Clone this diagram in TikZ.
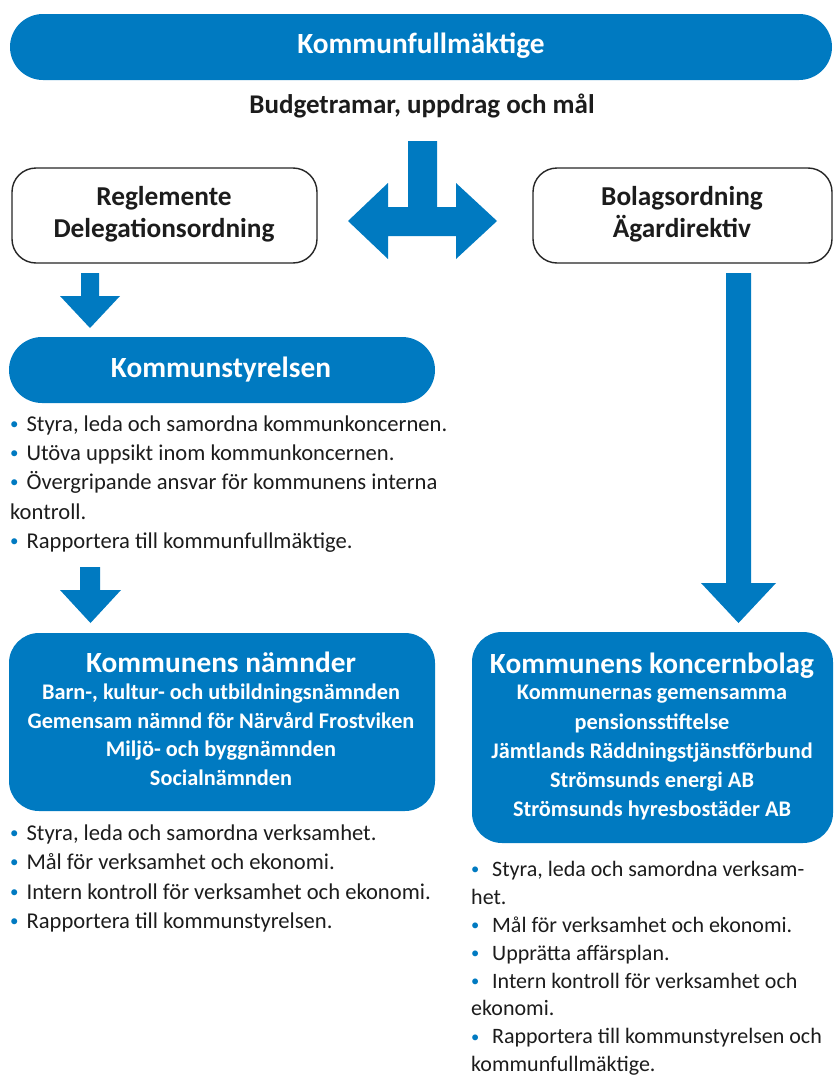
\documentclass[tikz,border=0pt]{standalone}
\usepackage{fontspec}
\setmainfont{Carlito}
\definecolor{kblue}{RGB}{0,122,193}
\definecolor{ktext}{RGB}{28,28,28}
\newcommand\kdot{\rlap{\textcolor{kblue}{\raisebox{0.08em}{\scalebox{0.75}{\textbullet}}}}\phantom{\textbullet}}
\newcommand\kbul{\kdot\ }
\newcommand\kbulw{\kdot\hspace{10pt}}
\begin{document}
\begin{tikzpicture}[x=1pt,y=-1pt,
  pill/.style={fill=kblue, draw=none, inner sep=0pt},
  whitebox/.style={draw=black!85, line width=1.4pt, fill=white, rounded corners=24pt, inner sep=0pt},
  blockarrow/.style={fill=kblue, draw=none},
  headtxt/.style={font=\bfseries\fontsize{29.3}{34}\selectfont, text=white, inner sep=0pt, anchor=base},
  subtxt/.style={font=\bfseries\fontsize{22.3}{29}\selectfont, text=white, align=center, inner sep=0pt, anchor=base},
  boxtxt/.style={font=\bfseries\fontsize{27.3}{32}\selectfont, text=ktext, align=center, inner sep=0pt, anchor=base},
  bodytxt/.style={font=\fontsize{22.6}{29.3}\selectfont, text=ktext, align=left, inner sep=0pt, anchor=base west},
]
\useasboundingbox (0,0) rectangle (833,1084);

% boxes
\node[pill, minimum width=822pt, minimum height=66pt, rounded corners=33pt] (kf) at (421,47) {};
\node[headtxt] (kft) at (421,53) {Kommunfullmäktige};
\node[boxtxt, font=\bfseries\fontsize{27}{32}\selectfont] (bud) at (422,113) {Budgetramar, uppdrag och mål};

\node[whitebox, minimum width=305pt, minimum height=95pt] (reg) at (164.5,215.5) {};
\node[boxtxt] (regt) at (164,237) {Reglemente\\Delegationsordning};
\node[whitebox, minimum width=299pt, minimum height=95pt] (bol) at (682.5,215.5) {};
\node[boxtxt] (bolt) at (682,237) {Bolagsordning\\Ägardirektiv};

\node[pill, minimum width=426pt, minimum height=66pt, rounded corners=33pt] (ks) at (222,370) {};
\node[headtxt] (kst) at (221,377.5) {Kommunstyrelsen};

\node[pill, minimum width=426pt, minimum height=178pt, rounded corners=30pt] (nam) at (222,722) {};
\node[headtxt] (namt) at (221,672.5) {Kommunens nämnder};
\node[subtxt, font=\bfseries\fontsize{22.3}{28.8}\selectfont] (nams) at (221,785.7) {Barn-, kultur- och utbildningsnämnden\\Gemensam nämnd för Närvård Frostviken\\Miljö- och byggnämnden\\Socialnämnden};

\node[pill, minimum width=361pt, minimum height=211pt, rounded corners=30pt] (bolag) at (652.5,737.5) {};
\node[headtxt] (bolagt) at (652,673) {Kommunens koncernbolag};
\node[subtxt, font=\bfseries\fontsize{22.3}{29.2}\selectfont] (bolags) at (652,816.7) {Kommunernas gemensamma\\pensionsstiftelse\\Jämtlands Räddningstjänstförbund\\Strömsunds energi AB\\Strömsunds hyresbostäder AB};

% arrows
\fill[blockarrow] (408,141) -- (437,141) -- (437,207) -- (456,207) -- (456,183) -- (497,221)
  -- (456,259) -- (456,236) -- (388,236) -- (388,259) -- (348,221) -- (388,183) -- (388,207)
  -- (408,207) -- cycle;
\fill[blockarrow] (81,273) -- (99,273) -- (99,296) -- (120,296) -- (90,328) -- (60,296) -- (81,296) -- cycle;
\fill[blockarrow] (726,273) -- (751,273) -- (751,583) -- (776,583) -- (738.5,623) -- (701,583) -- (726,583) -- cycle;
\fill[blockarrow] (80,567) -- (100,567) -- (100,590) -- (121,590) -- (90.5,623) -- (60,590) -- (80,590) -- cycle;

% bullet texts
\node[bodytxt] (ksb) at (10,548.3) {\kbul Styra, leda och samordna kommunkoncernen.\\
\kbul Utöva uppsikt inom kommunkoncernen.\\
\kbul Övergripande ansvar för kommunens interna\\
kontroll.\\
\kbul Rapportera till kommunfullmäktige.};
\node[bodytxt] (namb) at (10,928.3) {\kbul Styra, leda och samordna verksamhet.\\
\kbul Mål för verksamhet och ekonomi.\\
\kbul Intern kontroll för verksamhet och ekonomi.\\
\kbul Rapportera till kommunstyrelsen.};
\node[bodytxt, font=\fontsize{22}{27.9}\selectfont] (bolb) at (471,1071.7) {\kbulw Styra, leda och samordna verksam-\\
het.\\
\kbulw Mål för verksamhet och ekonomi.\\
\kbulw Upprätta affärsplan.\\
\kbulw Intern kontroll för verksamhet och\\
ekonomi.\\
\kbulw Rapportera till kommunstyrelsen och\\
kommunfullmäktige.};
\end{tikzpicture}
\end{document}
